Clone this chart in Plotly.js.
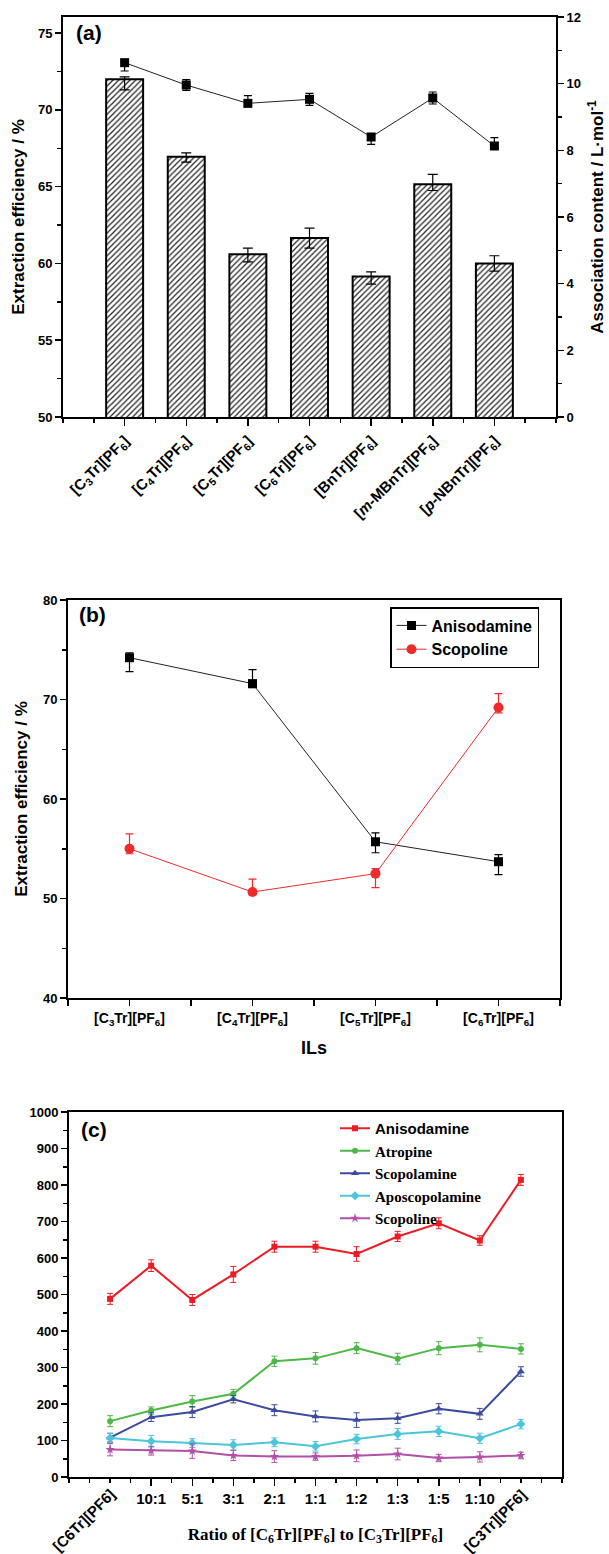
<!DOCTYPE html>
<html><head><meta charset="utf-8">
<script src="https://cdn.plot.ly/plotly-3.0.1.min.js"></script>
<style>body{margin:0;background:#fff}#chart{width:609px;height:1554px}</style>
</head><body><div id="chart"></div>
<script>
// ---------- Panel (a) ----------
const ilsA = ['[C<sub>3</sub>Tr][PF<sub>6</sub>]', '[C<sub>4</sub>Tr][PF<sub>6</sub>]', '[C<sub>5</sub>Tr][PF<sub>6</sub>]',
  '[C<sub>6</sub>Tr][PF<sub>6</sub>]', '[BnTr][PF<sub>6</sub>]', '[<i>m</i>-MBnTr][PF<sub>6</sub>]', '[<i>p</i>-NBnTr][PF<sub>6</sub>]'];
const effA = [72.0, 66.95, 60.6, 61.65, 59.15, 65.15, 60.0];
const effAErrPlus = [0.15, 0.25, 0.4, 0.65, 0.3, 0.65, 0.5];
const effAErrMinus = [0.7, 0.35, 0.5, 0.65, 0.5, 0.4, 0.5];
const assocA = [10.63, 9.96, 9.41, 9.53, 8.40, 9.57, 8.13];
const assocAErrPlus = [0.05, 0.16, 0.23, 0.18, 0.1, 0.18, 0.25];
const assocAErrMinus = [0.25, 0.16, 0.1, 0.18, 0.22, 0.18, 0.1];

// ---------- Panel (b) ----------
const ilsB = ['[C<sub>3</sub>Tr][PF<sub>6</sub>]', '[C<sub>4</sub>Tr][PF<sub>6</sub>]', '[C<sub>5</sub>Tr][PF<sub>6</sub>]', '[C<sub>6</sub>Tr][PF<sub>6</sub>]'];
const anisoB = [74.2, 71.6, 55.7, 53.7];
const anisoBErrPlus = [0.5, 1.4, 0.9, 0.7];
const anisoBErrMinus = [1.4, 0.4, 1.1, 1.3];
const scopB = [55.0, 50.65, 52.5, 69.2];
const scopBErrPlus = [1.5, 1.3, 0.5, 1.4];
const scopBErrMinus = [0.5, 0.3, 1.4, 0.55];

// ---------- Panel (c) ----------
const ratios = ['[C6Tr][PF6]', '10:1', '5:1', '3:1', '2:1', '1:1', '1:2', '1:3', '1:5', '1:10', '[C3Tr][PF6]'];
const anisoC = [488, 579, 485, 555, 631, 631, 611, 659, 695, 648, 814];
const anisoCErr = [15, 16, 15, 22, 15, 15, 20, 14, 15, 13, 15];
const atroC = [153, 182, 207, 228, 317, 325, 353, 324, 353, 362, 351];
const atroCErr = [15, 10, 16, 12, 14, 16, 15, 15, 18, 19, 14];
const scopolC = [108, 164, 178, 213, 183, 166, 156, 161, 187, 173, 289];
const scopolCErr = [12, 12, 15, 10, 15, 15, 20, 14, 14, 15, 13];
const apoC = [107, 98, 93, 88, 95, 84, 104, 118, 125, 106, 145];
const apoCErr = [12, 16, 12, 14, 12, 13, 13, 15, 14, 14, 13];
const scopolineC = [75, 72, 71, 59, 56, 56, 58, 63, 52, 55, 59];
const scopolineCErr = [17, 12, 20, 14, 16, 10, 16, 16, 10, 14, 9];

const W = 609, H = 1554;
const px = p => p / W;
const py = p => 1 - p / H;
const SANS = 'Liberation Sans, Arial, sans-serif';
const SERIF = 'Liberation Serif, Times New Roman, serif';

const idxA = ilsA.map((_, i) => i);
const idxB = ilsB.map((_, i) => i);
const idxC = ratios.map((_, i) => i);

function errs(plus, minus, w, th, color) {
  return {type: 'data', symmetric: false, array: plus, arrayminus: minus, color: color || '#000', thickness: th || 1.2, width: w || 4};
}

const traces = [
  {type: 'bar', x: idxA, y: effA, width: 0.6, xaxis: 'x', yaxis: 'y', showlegend: false,
   marker: {color: '#fff', line: {color: '#000', width: 2},
            pattern: {shape: '/', fgcolor: '#222', bgcolor: '#fff', size: 4, solidity: 0.3}},
   error_y: errs(effAErrPlus, effAErrMinus, 5, 1.2)},
  {type: 'scatter', mode: 'lines+markers', x: idxA, y: assocA, xaxis: 'x', yaxis: 'y4', showlegend: false,
   line: {color: '#222', width: 1}, marker: {symbol: 'square', size: 9, color: '#000'},
   error_y: errs(assocAErrPlus, assocAErrMinus, 4, 1.2)},

  {type: 'scatter', mode: 'lines+markers', name: 'Anisodamine', x: idxB, y: anisoB, xaxis: 'x2', yaxis: 'y2', legend: 'legend',
   line: {color: '#222', width: 1}, marker: {symbol: 'square', size: 9, color: '#000'},
   error_y: errs(anisoBErrPlus, anisoBErrMinus, 4, 1.2)},
  {type: 'scatter', mode: 'lines+markers', name: 'Scopoline', x: idxB, y: scopB, xaxis: 'x2', yaxis: 'y2', legend: 'legend',
   line: {color: '#ee2b2b', width: 1}, marker: {symbol: 'circle', size: 10, color: '#ee2b2b'},
   error_y: errs(scopBErrPlus, scopBErrMinus, 4, 1.2, '#ee2b2b')},

  {type: 'scatter', mode: 'lines+markers', name: '<span style="font-family:Liberation Sans">Anisodamine</span>', x: idxC, y: anisoC, xaxis: 'x3', yaxis: 'y3', legend: 'legend2',
   line: {color: '#ed1c24', width: 2}, marker: {symbol: 'square', size: 6, color: '#ed1c24'},
   error_y: {type: 'data', array: anisoCErr, color: '#ed1c24', thickness: 1, width: 3}},
  {type: 'scatter', mode: 'lines+markers', name: 'Atropine', x: idxC, y: atroC, xaxis: 'x3', yaxis: 'y3', legend: 'legend2',
   line: {color: '#4db848', width: 2}, marker: {symbol: 'circle', size: 6, color: '#4db848'},
   error_y: {type: 'data', array: atroCErr, color: '#4db848', thickness: 1, width: 3}},
  {type: 'scatter', mode: 'lines+markers', name: 'Scopolamine', x: idxC, y: scopolC, xaxis: 'x3', yaxis: 'y3', legend: 'legend2',
   line: {color: '#3b4ba0', width: 2}, marker: {symbol: 'triangle-up', size: 7, color: '#3b4ba0'},
   error_y: {type: 'data', array: scopolCErr, color: '#3b4ba0', thickness: 1, width: 3}},
  {type: 'scatter', mode: 'lines+markers', name: 'Aposcopolamine', x: idxC, y: apoC, xaxis: 'x3', yaxis: 'y3', legend: 'legend2',
   line: {color: '#4cc5da', width: 2}, marker: {symbol: 'diamond', size: 7, color: '#4cc5da'},
   error_y: {type: 'data', array: apoCErr, color: '#4cc5da', thickness: 1, width: 3}},
  {type: 'scatter', mode: 'lines+markers', name: 'Scopoline', x: idxC, y: scopolineC, xaxis: 'x3', yaxis: 'y3', legend: 'legend2',
   line: {color: '#b24fa8', width: 2}, marker: {symbol: 'star', size: 7, color: '#b24fa8'},
   error_y: {type: 'data', array: scopolineCErr, color: '#b24fa8', thickness: 1, width: 3}}
];

const tickFont = {family: SANS, size: 13, color: '#000', weight: 700};
function baseAxis(extra) {
  return Object.assign({showline: true, linecolor: '#000', linewidth: 2, mirror: true, ticks: 'outside',
    ticklen: 6, tickwidth: 1.5, tickcolor: '#000', showgrid: false, zeroline: false, tickfont: tickFont,
    automargin: false}, extra);
}

const layout = {
  width: W, height: H, margin: {l: 0, r: 0, t: 0, b: 0}, paper_bgcolor: '#fff', plot_bgcolor: '#fff',
  font: {family: SANS, color: '#000'},
  // (a)
  xaxis: baseAxis({domain: [px(63), px(556)], anchor: 'y', range: [-1, 7], tickmode: 'array', tickvals: idxA, ticktext: ilsA,
    tickangle: -45, tickfont: {family: SANS, size: 15, color: '#000', weight: 700}, ticklen: 7,
    minor: {tick0: -1, dtick: 0.5, ticks: 'outside', ticklen: 4, tickwidth: 1.5, tickcolor: '#000'}}),
  yaxis: baseAxis({domain: [py(417), py(17)], anchor: 'x', range: [50, 76.05], tickvals: [50, 55, 60, 65, 70, 75],
    minor: {tick0: 50, dtick: 2.5, ticks: 'outside', ticklen: 4, tickwidth: 1.5, tickcolor: '#000'},
    title: {text: 'Extraction efficiency / %', standoff: 9, font: {family: SANS, size: 17, weight: 700, color: '#000'}}}),
  yaxis4: baseAxis({overlaying: 'y', side: 'right', anchor: 'x', range: [0, 12], tickvals: [0, 2, 4, 6, 8, 10, 12], mirror: false,
    minor: {tick0: 0, dtick: 1, ticks: 'outside', ticklen: 4, tickwidth: 1.5, tickcolor: '#000'},
    title: {text: 'Association content / L·mol<sup>-1</sup>', standoff: 11, font: {family: SANS, size: 17, weight: 700, color: '#000'}}}),
  // (b)
  xaxis2: baseAxis({domain: [px(68), px(560)], anchor: 'y2', range: [-0.5, 3.5], tickmode: 'array', tickvals: idxB, ticktext: ilsB,
    tickfont: {family: SANS, size: 14, color: '#000', weight: 700},
    minor: {tick0: -0.5, dtick: 0.5, ticks: 'outside', ticklen: 6, tickwidth: 1.5, tickcolor: '#000'},
    title: {text: 'ILs', standoff: 15, font: {family: SANS, size: 18, weight: 700, color: '#000'}}}),
  yaxis2: baseAxis({domain: [py(998), py(600)], anchor: 'x2', range: [40, 80], tickvals: [40, 50, 60, 70, 80],
    minor: {tick0: 40, dtick: 5, ticks: 'outside', ticklen: 4, tickwidth: 1.5, tickcolor: '#000'},
    title: {text: 'Extraction efficiency / %', standoff: 11, font: {family: SANS, size: 17, weight: 700, color: '#000'}}}),
  // (c)
  xaxis3: baseAxis({domain: [px(69), px(562)], anchor: 'y3', range: [-1, 11], tickmode: 'array', tickvals: idxC.slice(1, -1), ticktext: ratios.slice(1, -1),
    tickfont: {family: SANS, size: 15, color: '#000', weight: 700}, ticklen: 7,
    minor: {tick0: -1, dtick: 0.5, ticks: 'outside', ticklen: 4, tickwidth: 1.5, tickcolor: '#000'},
    title: {text: 'Ratio of [C<sub>6</sub>Tr][PF<sub>6</sub>] to [C<sub>3</sub>Tr][PF<sub>6</sub>]', standoff: 22,
      font: {family: SERIF, size: 17, weight: 700, color: '#000'}}}),
  yaxis3: baseAxis({domain: [py(1477), py(1112)], anchor: 'x3', range: [0, 1000], dtick: 100,
    minor: {tick0: 0, dtick: 50, ticks: 'outside', ticklen: 4, tickwidth: 1.5, tickcolor: '#000'}}),
  legend: {x: px(390), y: py(607), xanchor: 'left', yanchor: 'top', bordercolor: '#000', borderwidth: 1.5, bgcolor: '#fff',
    font: {family: SANS, size: 16, weight: 700, color: '#000'}, tracegroupgap: 0},
  legend2: {x: px(335), y: py(1112), xanchor: 'left', yanchor: 'top', borderwidth: 0, bgcolor: 'rgba(0,0,0,0)',
    font: {family: SERIF, size: 15, weight: 700, color: '#000'}, tracegroupgap: 0},
  annotations: [
    {text: '(a)', xref: 'paper', yref: 'paper', x: px(74), y: py(33), xanchor: 'left', yanchor: 'middle', showarrow: false,
     font: {family: SANS, size: 21, weight: 700, color: '#000'}},
    {text: '(b)', xref: 'paper', yref: 'paper', x: px(77), y: py(614), xanchor: 'left', yanchor: 'middle', showarrow: false,
     font: {family: SANS, size: 21, weight: 700, color: '#000'}},
    {text: '(c)', xref: 'paper', yref: 'paper', x: px(79), y: py(1129), xanchor: 'left', yanchor: 'middle', showarrow: false,
     font: {family: SANS, size: 21, weight: 700, color: '#000'}},
    {text: ratios[0], xref: 'x3', yref: 'paper', x: idxC[0], xshift: -27, y: py(1520), xanchor: 'center', yanchor: 'middle',
     textangle: -45, showarrow: false, font: {family: SANS, size: 15, weight: 700, color: '#000'}},
    {text: ratios[ratios.length - 1], xref: 'x3', yref: 'paper', x: idxC[idxC.length - 1], xshift: -26, y: py(1520), xanchor: 'center', yanchor: 'middle',
     textangle: -45, showarrow: false, font: {family: SANS, size: 15, weight: 700, color: '#000'}}
  ]
};

Plotly.newPlot('chart', traces, layout, {staticPlot: true, displayModeBar: false});
</script></body></html>
